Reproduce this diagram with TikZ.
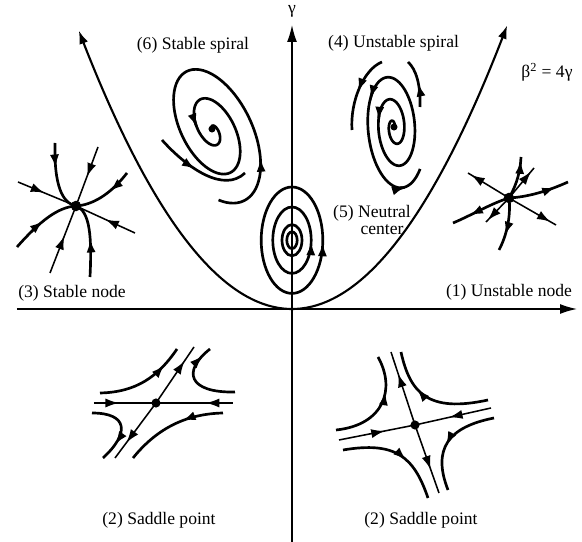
\documentclass[tikz,border=0pt]{standalone}
\usepackage{fontspec}
\setmainfont{Liberation Serif}
\usepackage{tikz}
\usetikzlibrary{arrows,arrows.meta,decorations.markings}

\tikzset{
  >={Latex[length=9.5pt,width=6.5pt]},
  traj/.style={line width=1.9pt},
  manif/.style={line width=1.1pt},
  axis/.style={line width=1pt, -{Latex[length=12pt,width=7pt]}},
  arr/.style={postaction={decorate, decoration={markings, mark=at position #1 with {\arrow{>}}}}},
  arr/.default=0.5,
  lbl/.style={font=\fontsize{12.5}{15}\selectfont},
  fixpt/.style={circle, fill=black, inner sep=0pt, minimum size=#1},
  fixpt/.default=7.5pt,
}
% spiral radius factors
\newcommand{\sspR}[1]{(1.1*(1-(#1+35)/935))}
\newcommand{\uspR}[1]{(#1/1036)}

\begin{document}
\begin{tikzpicture}

\useasboundingbox (-7.3,-5.825) rectangle (7.25,7.725);

% Axes
\coordinate (xl) at (-6.875,0);
\coordinate (xr) at (7.125,0);
\coordinate (yb) at (0,-5.825);
\coordinate (yt) at (0,7.1);
\draw[axis] (xl) -- (xr);
\draw[axis] (yb) -- (yt);
\node[lbl] (gam) at (0,7.43) {γ};

% Parabola beta^2 = 4 gamma
\draw[line width=1.5pt, <->]
  plot[domain=-5.33:5.38, samples=80, smooth] (\x,{0.245*\x*\x});
\node[lbl] (par) at (6.375,5.925) {β\textsuperscript{2} = 4γ};

% Labels
\node[lbl] (lbl6) at (-2.475,6.6) {(6) Stable spiral};
\node[lbl] (lbl4) at (2.54,6.65) {(4) Unstable spiral};
\node[lbl] (lbl5a) at (2.0,2.4) {(5) Neutral};
\node[lbl] (lbl5b) at (2.25,1.975) {center};
\node[lbl] (lbl3) at (-5.5,0.4) {(3) Stable node};
\node[lbl] (lbl1) at (5.425,0.425) {(1) Unstable node};
\node[lbl] (lbl2l) at (-3.325,-5.275) {(2) Saddle point};
\node[lbl] (lbl2r) at (3.225,-5.275) {(2) Saddle point};

% (6) Stable spiral
\begin{scope}[shift={(-2.0,4.5)}, rotate=-64]
\draw[traj, ->] plot[domain=-35:50, samples=20, smooth, variable=\a]
  ({1.85*\sspR{\a}*cos(\a)}, {1.0*\sspR{\a}*sin(\a)});
\draw[traj, ->] plot[domain=40:610, samples=110, smooth, variable=\a]
  ({1.85*\sspR{\a}*cos(\a)}, {1.0*\sspR{\a}*sin(\a)});
\draw[traj] plot[domain=595:880, samples=50, smooth, variable=\a]
  ({1.85*\sspR{\a}*cos(\a)}, {1.0*\sspR{\a}*sin(\a)});
\node[fixpt=5pt] (sspc) at (0,0) {};
\end{scope}
\draw[traj, arr=0.45] (-3.25,4.225) .. controls (-2.6,3.5) and (-1.7,2.9) .. (-1.175,3.4);

% (4) Unstable spiral
\begin{scope}[shift={(2.55,4.55)}, rotate=6]
\draw[traj, ->] plot[domain=5:525, samples=100, smooth, variable=\a]
  ({0.75*\uspR{\a}*cos(\a)}, {1.6*\uspR{\a}*sin(\a)});
\draw[traj, ->] plot[domain=515:865, samples=70, smooth, variable=\a]
  ({0.75*\uspR{\a}*cos(\a)}, {1.6*\uspR{\a}*sin(\a)});
\draw[traj, ->] plot[domain=855:1000, samples=30, smooth, variable=\a]
  ({0.75*\uspR{\a}*cos(\a)}, {1.6*\uspR{\a}*sin(\a)});
\draw[traj] plot[domain=990:1036, samples=10, smooth, variable=\a]
  ({0.75*\uspR{\a}*cos(\a)}, {1.6*\uspR{\a}*sin(\a)});
\node[fixpt=5pt] (uspc) at (0,0) {};
\end{scope}
\draw[traj, arr=0.5] (2.25,6.175) .. controls (1.8,6.0) and (1.45,5.2) .. (1.5,4.475);
\draw[traj, arr=0.5] (3.2,5.05) .. controls (3.22,5.6) and (3.1,6.0) .. (2.9,6.175);

% (5) Neutral center
\coordinate (ncen) at (0,1.72);
\draw[traj] (ncen) ellipse (0.13 and 0.21);
\draw[traj] (ncen) ellipse (0.25 and 0.39);
\draw[traj, arr=0.99] (ncen) ellipse (0.48 and 0.83);
\draw[traj, arr=0.99] (ncen) ellipse (0.77 and 1.33);

% (3) Stable node
\node[fixpt] (snode) at (-5.4,2.575) {};
\draw[manif, arr=0.45] (-6.85,3.175) -- (snode.center);
\draw[manif, arr=0.5] (-3.925,1.9) -- (snode.center);
\draw[manif, arr=0.5] (-4.85,4.05) -- (snode.center);
\draw[manif, arr=0.55] (-6.05,0.9) -- (snode.center);
\draw[traj, arr=0.35] (-5.925,4.15) .. controls (-5.95,3.1) and (-5.75,2.65) .. (snode.center);
\draw[traj, arr=0.4] (-4.125,3.4) .. controls (-4.55,2.85) and (-5.0,2.6) .. (snode.center);
\draw[traj, arr=0.5] (-6.875,1.55) .. controls (-6.3,2.2) and (-5.85,2.55) .. (snode.center);
\draw[traj, arr=0.5] (-5.05,0.8) .. controls (-5.0,1.8) and (-5.05,2.45) .. (snode.center);

% (1) Unstable node
\node[fixpt] (unode) at (5.425,2.775) {};
\draw[manif, arr=0.92] (unode.center) -- (4.4,3.4);
\draw[manif, arr=0.88] (unode.center) -- (6.6,2.1);
\draw[manif, arr=0.92] (unode.center) -- (4.85,2.175);
\draw[manif, arr=0.88] (unode.center) -- (6.05,3.525);
\draw[traj, arr=0.92] (unode.center) .. controls (5.55,3.0) and (5.7,3.3) .. (5.725,3.8);
\draw[traj, arr=0.7] (unode.center) .. controls (5.47,2.4) and (5.4,1.9) .. (5.175,1.475);
\draw[traj, arr=0.78] (unode.center) .. controls (5.9,2.8) and (6.4,2.95) .. (6.9,3.175);
\draw[traj, arr=0.7] (unode.center) .. controls (5.0,2.65) and (4.5,2.35) .. (4.025,2.15);

% (2) Saddle point, left
\node[fixpt=6.5pt] (sadl) at (-3.4,-2.35) {};
\draw[manif, arr=0.4] (-4.95,-2.35) -- (sadl.center);
\draw[manif, arr=0.35] (-1.475,-2.35) -- (sadl.center);
\draw[manif, arr=0.75] (sadl.center) -- (-2.45,-0.95);
\draw[manif, arr=0.72] (sadl.center) -- (-4.425,-3.725);
\draw[traj, arr=0.78] (-4.8,-2.1) .. controls (-3.9,-2.08) and (-3.35,-1.7) .. (-2.875,-1.0);
\draw[traj, arr=0.88] (-1.425,-2.075) .. controls (-2.6,-2.1) and (-2.75,-1.55) .. (-2.05,-1.0);
\draw[traj, arr=0.75] (-5.0,-2.6) .. controls (-4.1,-2.6) and (-4.05,-3.1) .. (-4.725,-3.725);
\draw[traj, arr=0.4] (-1.725,-2.6) .. controls (-2.6,-2.62) and (-3.35,-2.95) .. (-3.975,-3.725);

% (2) Saddle point, right
\node[fixpt=6.5pt] (sadr) at (3.075,-2.9) {};
\draw[manif, arr=0.6] (1.175,-3.275) -- (sadr.center);
\draw[manif, arr=0.55] (4.975,-2.475) -- (sadr.center);
\draw[manif, arr=0.7] (sadr.center) -- (2.475,-1.075);
\draw[manif, arr=0.65] (sadr.center) -- (3.675,-4.6);
\draw[traj, arr=0.65] (1.1,-3.025) .. controls (2.3,-2.9) and (2.6,-2.0) .. (2.15,-1.2);
\draw[traj, arr=0.65] (4.9,-2.275) .. controls (3.4,-2.6) and (2.95,-2.1) .. (2.725,-1.075);
\draw[traj, arr=0.6] (1.275,-3.525) .. controls (2.6,-3.3) and (3.05,-3.7) .. (3.4,-4.725);
\draw[traj, arr=0.55] (5.05,-2.725) .. controls (3.9,-2.95) and (3.5,-3.5) .. (3.9,-4.525);

\end{tikzpicture}
\end{document}
